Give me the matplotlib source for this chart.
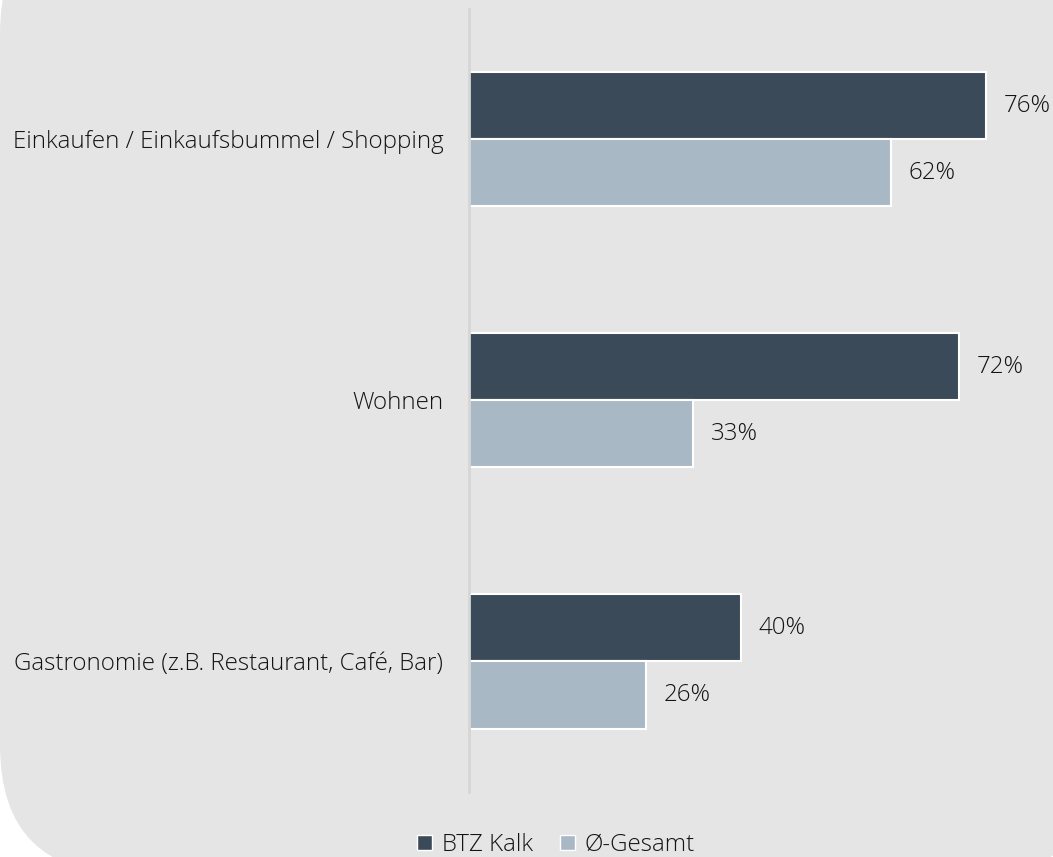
import matplotlib.pyplot as plt
import numpy as np
from matplotlib.patches import FancyBboxPatch, Patch
from matplotlib.transforms import IdentityTransform

plt.rcParams['font.family'] = ['Open Sans', 'DejaVu Sans']

categories = ['Einkaufen / Einkaufsbummel / Shopping', 'Wohnen',
              'Gastronomie (z.B. Restaurant, Café, Bar)']
btz_kalk = [76, 72, 40]
gesamt = [62, 33, 26]
series_names = ['BTZ Kalk', 'Ø-Gesamt']

dark = '#3b4a58'
light = '#a9b8c5'
bg = '#e5e5e5'
txt = '#141414'
fs = 17.4

W, H = 1053, 857
fig = plt.figure(figsize=(W / 100, H / 100), dpi=100)
fig.patch.set_facecolor('white')

# rounded grey panel, partly running off the canvas
panel = FancyBboxPatch((0, -17), 1103, 969,
                       boxstyle='round,pad=0,rounding_size=129',
                       transform=IdentityTransform(),
                       facecolor=bg, edgecolor='none', zorder=0)
fig.add_artist(panel)

ax = fig.add_axes([469 / W, 65 / H, 578 / W, 783.5 / H])
ax.set_facecolor('none')

y = np.arange(len(categories))
h = 0.257
ax.barh(y - h / 2, btz_kalk, height=h, color=dark, edgecolor='white', linewidth=1.5)
ax.barh(y + h / 2, gesamt, height=h, color=light, edgecolor='white', linewidth=1.5)

for yi, v in zip(y - h / 2, btz_kalk):
    ax.text(v + 2.6, yi, f'{v}%', va='center', ha='left', fontsize=fs,
            color=txt, fontweight='light')
for yi, v in zip(y + h / 2, gesamt):
    ax.text(v + 2.6, yi, f'{v}%', va='center', ha='left', fontsize=fs,
            color=txt, fontweight='light')

ax.set_xlim(0, 85)
ax.set_ylim(2.5, -0.5)
ax.set_yticks(y)
ax.set_yticklabels(categories, fontsize=fs, color=txt, fontweight='light')
ax.tick_params(axis='y', length=0, pad=18.5)
ax.set_xticks([])
for s in ['top', 'right', 'bottom']:
    ax.spines[s].set_visible(False)
ax.spines['left'].set_color('#d6d6d6')
ax.spines['left'].set_linewidth(2)

handles = [Patch(facecolor=dark, edgecolor='white', label=series_names[0]),
           Patch(facecolor=light, edgecolor='white', label=series_names[1])]
leg = fig.legend(handles=handles, loc='center', bbox_to_anchor=(556 / W, 1 - 845 / H),
                 ncol=2, frameon=False, fontsize=fs, handlelength=0.62,
                 handleheight=0.62, handletextpad=0.4, columnspacing=1.1)
for t in leg.get_texts():
    t.set_color(txt)
    t.set_fontweight('light')

fig.savefig('out.png', dpi=100, facecolor='white')
